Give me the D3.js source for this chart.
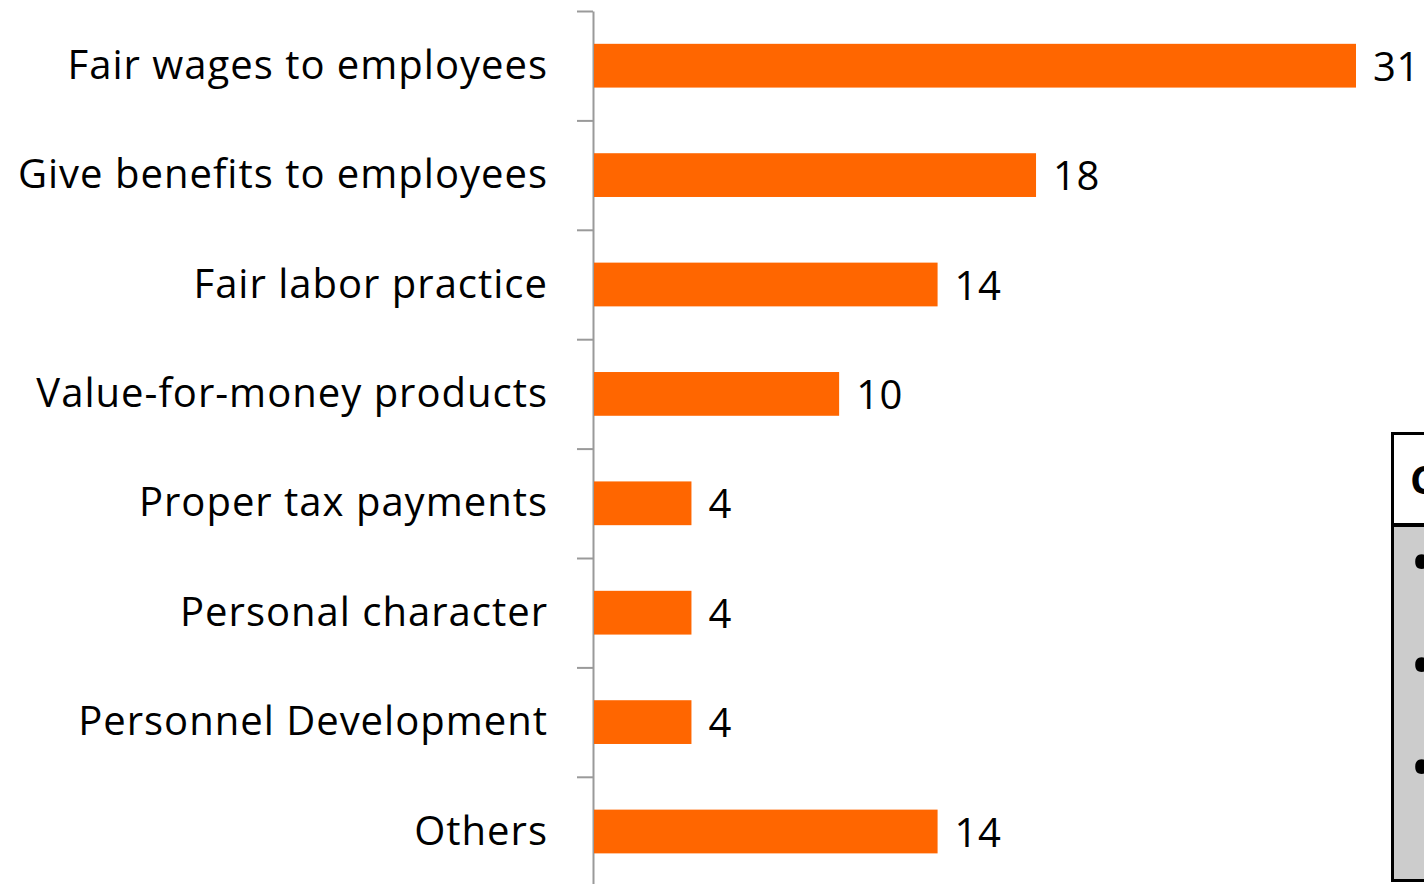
<!DOCTYPE html>
<html>
<head>
<meta charset="utf-8">
<script src="https://cdn.jsdelivr.net/npm/d3@7"></script>
<style>
  html, body { margin: 0; padding: 0; background: #ffffff; overflow: hidden; }
  svg { display: block; }
</style>
</head>
<body>
<svg id="chart" width="1424" height="884"></svg>
<script>
// Categories and their counts, top to bottom
const categories = [
  "Fair wages to employees",
  "Give benefits to employees",
  "Fair labor practice",
  "Value-for-money products",
  "Proper tax payments",
  "Personal character",
  "Personnel Development",
  "Others"
];
const values = [31, 18, 14, 10, 4, 4, 4, 14];

// Side panel contents
const panelTitle = "Comments";
const panelItems = ["", "", ""];

const svg = d3.select("#chart");
const fontFamily = "'Open Sans', Lato, sans-serif";
const labelSize = 40;
const labelSpacing = 1.0;

const axisX = 593;
const plotTop = 11, plotBottom = 886.2;

const x = d3.scaleLinear().domain([0, 31]).range([axisX, 1356]);
const y = d3.scaleBand()
  .domain(categories)
  .range([plotTop, plotBottom])
  .paddingInner(0.6)
  .paddingOuter(0.3);

// Tick marks sit on the boundaries between categories
const boundary = d3.scaleLinear().domain([0, categories.length]).range([plotTop, plotBottom]);
const axis = d3.axisLeft(boundary)
  .tickValues(d3.range(0, categories.length + 1))
  .tickFormat("")
  .tickSize(16)
  .tickSizeOuter(0);

const axisG = svg.append("g")
  .attr("transform", `translate(${axisX},0)`)
  .call(axis);
axisG.select(".domain").attr("stroke", "#9a9a9a").attr("stroke-width", 2);
axisG.selectAll(".tick line").attr("stroke", "#9a9a9a").attr("stroke-width", 2);

// Bars
svg.append("g").selectAll("rect")
  .data(categories)
  .join("rect")
  .attr("x", axisX + 1)
  .attr("y", d => y(d))
  .attr("width", (d, i) => x(values[i]) - axisX - 1)
  .attr("height", y.bandwidth())
  .attr("fill", "#ff6600");

// Category labels
svg.append("g").selectAll("text")
  .data(categories)
  .join("text")
  .attr("x", 547 + labelSpacing)
  .attr("y", d => y(d) + y.bandwidth() / 2 - 1)
  .attr("dy", "0.35em")
  .attr("text-anchor", "end")
  .attr("font-family", fontFamily)
  .attr("font-size", labelSize)
  .attr("letter-spacing", labelSpacing)
  .attr("fill", "#000")
  .text(d => d);

// Value labels
svg.append("g").selectAll("text")
  .data(categories)
  .join("text")
  .attr("x", (d, i) => x(values[i]) + 17)
  .attr("y", d => y(d) + y.bandwidth() / 2 + 1)
  .attr("dy", "0.35em")
  .attr("font-family", fontFamily)
  .attr("font-size", labelSize)
  .attr("letter-spacing", 0.6)
  .attr("fill", "#000")
  .text((d, i) => values[i]);

// Side panel (extends past the right edge)
const panel = svg.append("g");
panel.append("rect")
  .attr("x", 1392.5).attr("y", 525).attr("width", 200).attr("height", 355)
  .attr("fill", "#cccccc");
panel.append("rect")
  .attr("x", 1392.5).attr("y", 433.5).attr("width", 200).attr("height", 447)
  .attr("fill", "none").attr("stroke", "#000").attr("stroke-width", 3);
panel.append("line")
  .attr("x1", 1391).attr("x2", 1600).attr("y1", 525).attr("y2", 525)
  .attr("stroke", "#000").attr("stroke-width", 4);
panel.append("text")
  .attr("x", 1410).attr("y", 480).attr("dy", "0.35em")
  .attr("font-family", fontFamily).attr("font-weight", "bold")
  .attr("font-size", labelSize).attr("fill", "#000")
  .text(panelTitle);
const items = panel.append("g").selectAll("text")
  .data(panelItems)
  .join("text")
  .attr("x", 1410)
  .attr("y", (d, i) => 578 + i * 102.5)
  .attr("dy", "0.35em")
  .attr("font-family", fontFamily)
  .attr("font-size", 40)
  .attr("fill", "#000");
items.append("tspan").attr("font-size", 62).attr("dy", "0.1em").text("\u2022");
items.append("tspan").attr("dx", 8).text(d => d);
</script>
</body>
</html>
